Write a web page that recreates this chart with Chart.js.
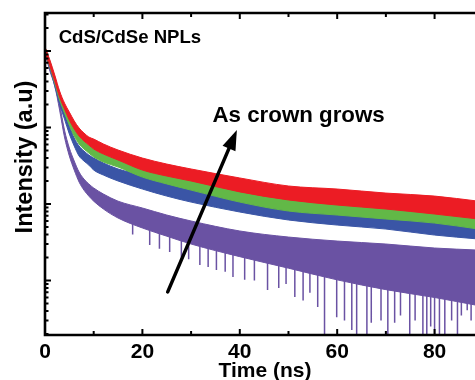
<!DOCTYPE html>
<html>
<head>
<meta charset="utf-8">
<script src="https://cdn.jsdelivr.net/npm/chart.js@4/dist/chart.umd.min.js"></script>
<style>
  html, body { margin: 0; padding: 0; background: #fff; overflow: hidden; }
  canvas { display: block; }
</style>
</head>
<body>
<canvas id="decayChart" width="475" height="380"></canvas>
<script>
// time axis (ns) shared by all traces
const times = [0, 1, 2, 3, 4, 5, 6, 7, 8, 9, 10, 12, 15, 20, 25, 30, 40, 50, 60, 70, 80, 89];

// upper / lower edge of each noisy trace (a.u.)
const redHi    = [1128, 763, 486, 300, 209, 159, 122, 98.5, 84.8, 75.1, 70.7, 60.9, 50.8, 39.9, 33.3, 28.7, 21.9, 17.2, 15.7, 13.9, 12.7, 10.9];
const redLo    = [942, 637, 405, 250, 175, 125, 95.6, 77.4, 66.6, 59.0, 52.4, 45.0, 37.6, 27.8, 23.2, 20.0, 14.4, 11.3, 9.7, 8.6, 7.4, 6.37];
const greenHi  = [1128, 740, 457, 274, 185, 137, 98.5, 77.4, 66.6, 59.0, 52.4, 45.0, 38.7, 30.5, 24.7, 20.6, 15.2, 11.6, 10.3, 9.14, 8.6, 7.18];
const greenLo  = [942, 618, 382, 229, 155, 108, 77.4, 60.9, 52.4, 46.4, 41.2, 35.4, 30.5, 22.5, 18.3, 15.2, 10.6, 8.1, 7.18, 6.37, 5.64, 4.71];
const blueHi   = [1128, 718, 418, 243, 155, 105, 72.9, 57.3, 49.3, 43.7, 39.9, 34.4, 28.7, 23.9, 19.4, 16.2, 12.7, 10.0, 8.6, 7.63, 6.76, 6.0];
const blueLo   = [942, 599, 349, 203, 129, 82.2, 57.3, 42.4, 36.5, 32.3, 27.8, 23.9, 20.0, 15.7, 12.7, 10.6, 7.86, 6.18, 5.31, 4.71, 3.93, 3.49];
const purpleHi = [1128, 637, 418, 203, 92.8, 54.0, 36.5, 26.2, 21.2, 18.3, 16.2, 13.5, 10.9, 8.87, 7.18, 6.0, 4.44, 3.7, 3.28, 3.0, 2.66, 2.5];
const purpleLo = [942, 548, 349, 169, 75.1, 42.4, 27.8, 19.4, 15.2, 12.7, 10.9, 8.6, 6.56, 4.86, 3.8, 3.0, 2.05, 1.45, 1.02, 0.76, 0.6, 0.47];

// downward noise spikes of the purple trace
const spikeTimes = [18.0, 21.5, 23.5, 25.6, 28.0, 29.5, 31.8, 33.5, 35.2, 37.0, 38.6, 41.0, 43.0, 45.7, 48.0, 49.5, 51.3, 53.0, 54.4, 56.0, 57.4,
                    59.9, 61.5, 63.0, 64.0, 66.1, 67.0, 69.0, 70.4, 71.8, 73.0, 74.9, 76.0, 77.6, 78.4, 79.2, 80.0, 81.0, 82.1, 83.5, 84.7, 85.5, 86.7, 87.5];
const spikeTops  = [6.0, 5.0, 4.5, 4.0, 3.5, 3.3, 3.0, 2.9, 2.8, 2.6, 2.5, 2.4, 2.3, 2.2, 2.0, 2.0, 2.0, 1.9, 1.8, 1.6, 1.5,
                    1.5, 1.4, 1.3, 1.3, 1.2, 1.2, 1.2, 1.1, 1.1, 1.1, 1.0, 1.0, 1.0, 1.0, 1.0, 1.0, 0.9, 0.9, 0.9, 0.9, 0.9, 0.9, 0.9];
const spikeLows  = [4.0, 2.91, 2.6, 2.36, 2.0, 1.9, 1.60, 1.5, 1.37, 1.3, 1.11, 1.02, 1.0, 0.75, 0.8, 0.9, 0.61, 0.55, 0.69, 0.45, 0.19,
                    0.33, 0.3, 0.225, 0.19, 0.19, 0.28, 0.3, 0.19, 0.28, 0.35, 0.19, 0.3, 0.19, 0.19, 0.25, 0.19, 0.19, 0.19, 0.3, 0.19, 0.35, 0.41, 0.3];

// axis ticks
const xTickLabels = [0, 20, 40, 60, 80];
const xMinorTicks = [10, 30, 50, 70];
const yDecades = [0.1, 1, 10, 100, 1000];

const FONT = '"Liberation Sans", Arial, sans-serif';

function toPoints(arr) {
  return arr.map((v, i) => ({ x: times[i], y: v }));
}

function band(hi, lo, color) {
  return [
    { data: toPoints(hi), borderColor: color, borderWidth: 1, backgroundColor: color, fill: false },
    { data: toPoints(lo), borderColor: color, borderWidth: 1, backgroundColor: color, fill: '-1' }
  ];
}

const spikePoints = [];
spikeTimes.forEach((t, i) => {
  spikePoints.push({ x: t, y: spikeTops[i] });
  spikePoints.push({ x: t, y: spikeLows[i] });
  spikePoints.push({ x: t, y: null });
});

// frame, inward ticks, labels and the arrow annotation
const framePlugin = {
  id: 'frame',
  afterDatasetsDraw(chart) {
    const { ctx, chartArea: a, scales: { x, y } } = chart;
    ctx.save();
    ctx.strokeStyle = '#000';
    ctx.fillStyle = '#000';

    // ticks on bottom and top
    ctx.lineWidth = 2;
    ctx.beginPath();
    xTickLabels.concat(xMinorTicks).forEach(t => {
      if (t === 0) return;
      const px = x.getPixelForValue(t);
      const len = xTickLabels.includes(t) ? 6 : 4;
      ctx.moveTo(px, a.bottom); ctx.lineTo(px, a.bottom - len);
      ctx.moveTo(px, a.top); ctx.lineTo(px, a.top + len);
    });
    // log ticks on left
    yDecades.forEach(d => {
      for (let m = 1; m <= 9; m++) {
        const v = m * d;
        if (v < y.min || v > y.max) continue;
        const py = y.getPixelForValue(v);
        const len = m === 1 ? 6 : 3.5;
        ctx.moveTo(a.left, py); ctx.lineTo(a.left + len, py);
      }
    });
    ctx.stroke();

    // frame
    ctx.lineWidth = 2.6;
    ctx.beginPath();
    ctx.moveTo(a.right + 5, a.top);
    ctx.lineTo(a.left, a.top);
    ctx.lineTo(a.left, a.bottom);
    ctx.lineTo(a.right + 5, a.bottom);
    ctx.stroke();

    // x tick labels
    ctx.font = 'bold 21px ' + FONT;
    ctx.textAlign = 'center';
    ctx.textBaseline = 'alphabetic';
    xTickLabels.forEach(t => ctx.fillText(String(t), x.getPixelForValue(t), a.bottom + 23));

    // axis titles
    ctx.fillText('Time (ns)', 265, 377);
    ctx.save();
    ctx.translate(32, 157);
    ctx.rotate(-Math.PI / 2);
    ctx.font = 'bold 23.5px ' + FONT;
    ctx.fillText('Intensity (a.u)', 0, 0);
    ctx.restore();

    // in-plot labels
    ctx.textAlign = 'left';
    ctx.font = 'bold 18.6px ' + FONT;
    ctx.fillText('CdS/CdSe NPLs', x.getPixelForValue(2.8), y.getPixelForValue(1273));
    ctx.font = 'bold 22.3px ' + FONT;
    ctx.fillText('As crown grows', x.getPixelForValue(34.4), y.getPixelForValue(118));

    // arrow
    const x0 = x.getPixelForValue(25.2), y0 = y.getPixelForValue(0.71);
    const x1 = x.getPixelForValue(39.4), y1 = y.getPixelForValue(92.7);
    const ang = Math.atan2(y1 - y0, x1 - x0);
    const headLen = 20, headW = 7;
    const bx = x1 - headLen * Math.cos(ang), by = y1 - headLen * Math.sin(ang);
    ctx.lineWidth = 3.5;
    ctx.lineCap = 'round';
    ctx.beginPath();
    ctx.moveTo(x0, y0);
    ctx.lineTo(bx, by);
    ctx.stroke();
    ctx.beginPath();
    ctx.moveTo(x1, y1);
    ctx.lineTo(bx + headW * Math.sin(ang), by - headW * Math.cos(ang));
    ctx.lineTo(bx - headW * Math.sin(ang), by + headW * Math.cos(ang));
    ctx.closePath();
    ctx.fill();

    ctx.restore();
  }
};

new Chart(document.getElementById('decayChart'), {
  type: 'line',
  data: {
    datasets: [
      ...band(redHi, redLo, '#ec1c24'),
      ...band(greenHi, greenLo, '#62b847'),
      ...band(blueHi, blueLo, '#3a55a6'),
      ...band(purpleHi, purpleLo, '#6a52a3'),
      { data: spikePoints, borderColor: '#6a52a3', borderWidth: 1.5, fill: false, spanGaps: false, tension: 0 }
    ]
  },
  options: {
    responsive: false,
    animation: false,
    devicePixelRatio: 1,
    layout: { padding: { left: 45, top: 13, right: 0, bottom: 45 } },
    elements: {
      point: { radius: 0 },
      line: { cubicInterpolationMode: 'monotone' }
    },
    plugins: {
      legend: { display: false },
      tooltip: { enabled: false }
    },
    scales: {
      x: { type: 'linear', min: 0, max: 88.3, display: false },
      y: { type: 'logarithmic', min: 0.194, max: 3141, display: false }
    }
  },
  plugins: [framePlugin]
});
</script>
</body>
</html>
